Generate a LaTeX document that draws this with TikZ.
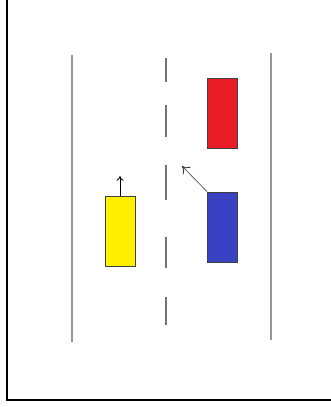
\documentclass[tikz,border=0pt]{standalone}
\usetikzlibrary{arrows.meta}
\definecolor{roadgray}{RGB}{150,150,150}
\definecolor{carred}{RGB}{232,28,36}
\definecolor{carblue}{RGB}{58,66,196}
\definecolor{caryellow}{RGB}{255,240,0}
\tikzset{
  car/.style={draw=black!75, line width=0.8pt, minimum width=0.9cm, minimum height=2.1cm, inner sep=0pt},
  roadline/.style={roadgray, line width=1.4pt},
  move/.style={-{To[length=4pt,width=6pt]}, line width=0.7pt}
}
\begin{document}
\begin{tikzpicture}[x=0.03cm, y=-0.03cm]
  \useasboundingbox (0,0) rectangle (331,407);
  \fill[white] (0,0) rectangle (331,407);
  % frame
  \draw[line width=2.4pt] (7,0) -- (7,400) -- (331,400);

  % road edges and center line
  \draw[roadline] (72,55) -- (72,342);
  \draw[roadline] (271,53) -- (271,340);
  \foreach \a/\b in {58/82, 105/137, 165/200, 237/268, 297/325}
    \draw[roadline, black!55] (166,\a) -- (166,\b);

  % cars
  \node[car, fill=carred] (red) at (222.5,113) {};
  \node[car, fill=carblue] (blue) at (222.5,227) {};
  \node[car, fill=caryellow] (yellow) at (120,231.5) {};

  \coordinate (yellowgo) at (120,176);
  \coordinate (bluego) at (182,166);
  \draw[move, black] (yellow.north) -- (yellowgo);
  \draw[move, black!60, -{To[length=6pt,width=9pt,black!80]}] (blue.north west) -- (bluego);
\end{tikzpicture}
\end{document}
